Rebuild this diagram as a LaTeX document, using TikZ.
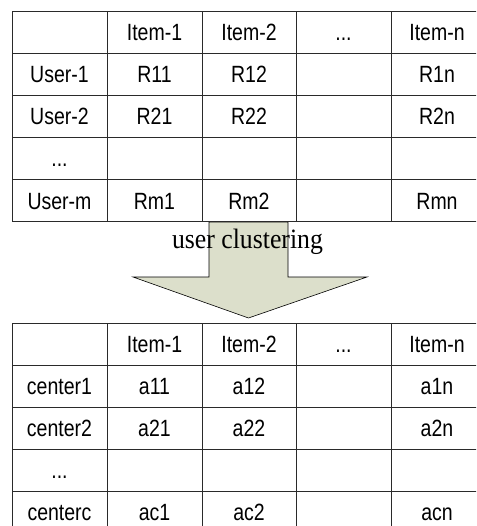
\documentclass[tikz,border=0pt]{standalone}
\usepackage{fontspec}
\setmainfont{Liberation Serif}
\newfontfamily\tabfont[FakeStretch=0.83]{Liberation Sans}
\newfontfamily\lblfont[FakeStretch=0.92]{Liberation Serif}
\definecolor{arrowfill}{HTML}{DCDFCB}
\definecolor{gridline}{HTML}{2A2A2A}
\begin{document}
\begin{tikzpicture}[x=1pt,y=-1pt,
  cell/.style={anchor=base, font=\tabfont\fontsize{23.5}{27}\selectfont, inner sep=0pt, text=black},
  gridln/.style={draw=gridline, line width=1pt},
  bigarrow/.style={draw=black, line width=0.6pt, fill=arrowfill},
  lbl/.style={anchor=base, font=\lblfont\fontsize{28}{32}\selectfont, inner sep=0pt}]
\useasboundingbox (0,0) rectangle (476,526);
\clip (0,0) rectangle (476,526);

% arrow
\coordinate (sl) at (209,222);
\coordinate (sr) at (288,222);
\coordinate (tip) at (248.5,318);
\draw[bigarrow] (sl) -- (209,277) -- (133,277) -- (tip) -- (367,277) -- (288,277) -- (sr) -- cycle;

% top table grid
\foreach \yy in {11.5,53.5,95.5,137.5,179.5,221.5}
  \draw[gridln] (12,\yy) -- (490,\yy);
\foreach \xx in {12,107,202,296.5,391,486}
  \draw[gridln] (\xx,11.5) -- (\xx,221.5);

% bottom table grid
\foreach \yy in {323,365,407,449,491,533}
  \draw[gridln] (12,\yy) -- (490,\yy);
\foreach \xx in {12,107,202,296.5,391,486}
  \draw[gridln] (\xx,323) -- (\xx,540);

% top table texts
\node[cell] (a02) at (154.5,41) {Item-1};
\node[cell] (a03) at (249,41) {Item-2};
\node[cell] (a04) at (343.5,41) {...};
\node[cell] (a05) at (437,41) {Item-n};
\node[cell] (a11) at (59.5,83) {User-1};
\node[cell] (a12) at (154.5,83) {R11};
\node[cell] (a13) at (249,83) {R12};
\node[cell] (a15) at (437,83) {R1n};
\node[cell] (a21) at (59.5,125) {User-2};
\node[cell] (a22) at (154.5,125) {R21};
\node[cell] (a23) at (249,125) {R22};
\node[cell] (a25) at (437,125) {R2n};
\node[cell] (a31) at (59.5,166.5) {...};
\node[cell] (a41) at (59.5,209.5) {User-m};
\node[cell] (a42) at (154.5,209.5) {Rm1};
\node[cell] (a43) at (249,209.5) {Rm2};
\node[cell] (a45) at (437,209.5) {Rmn};

% label
\node[lbl] (uc) at (247.5,248) {user clustering};

% bottom table texts
\node[cell] (b02) at (154.5,352.5) {Item-1};
\node[cell] (b03) at (249,352.5) {Item-2};
\node[cell] (b04) at (343.5,352.5) {...};
\node[cell] (b05) at (437,352.5) {Item-n};
\node[cell] (b11) at (59.5,394.5) {center1};
\node[cell] (b12) at (154.5,394.5) {a11};
\node[cell] (b13) at (249,394.5) {a12};
\node[cell] (b15) at (437,394.5) {a1n};
\node[cell] (b21) at (59.5,436.5) {center2};
\node[cell] (b22) at (154.5,436.5) {a21};
\node[cell] (b23) at (249,436.5) {a22};
\node[cell] (b25) at (437,436.5) {a2n};
\node[cell] (b31) at (59.5,478) {...};
\node[cell] (b41) at (59.5,520) {centerc};
\node[cell] (b42) at (154.5,520) {ac1};
\node[cell] (b43) at (249,520) {ac2};
\node[cell] (b45) at (437,520) {acn};
\end{tikzpicture}
\end{document}
